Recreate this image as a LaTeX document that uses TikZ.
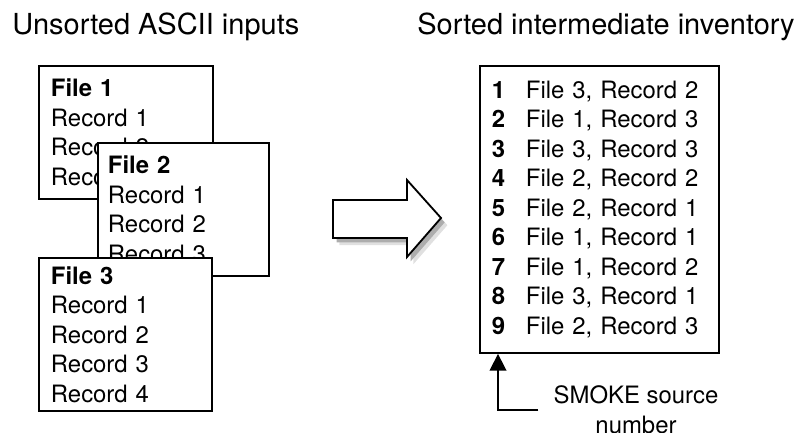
\documentclass[tikz,border=0pt]{standalone}
\usepackage{fontspec}
\setmainfont{TeX Gyre Heros}
\usetikzlibrary{arrows.meta}

\newcommand\invrow[2]{\makebox[0.85cm][l]{\textbf{#1}}#2}
\newcommand\bigarrowpath{(333,200) -- (407,200) -- (407,180) -- (441,218) -- (407,257) -- (407,238) -- (333,238) -- cycle}

\pgfdeclarelayer{background}
\pgfsetlayers{background,main}

\begin{document}
\begin{tikzpicture}[x=0.025cm,y=-0.025cm,
    farshadow/.style={fill=black!12,shift={(0.16cm,-0.18cm)}},
    nearshadow/.style={fill=black!32,shift={(0.09cm,-0.11cm)}},
    filebox/.style={draw,line width=1.3pt,fill=white,anchor=north west,
        inner xsep=0.3cm,align=left,font=\fontsize{17}{21}\selectfont},
    heading/.style={inner sep=0pt,font=\fontsize{20.6}{24}\selectfont},
    srcarrow/.style={line width=1.1pt,-{Triangle[length=0.42cm,width=0.42cm]}}]

    \useasboundingbox (0,0) rectangle (802,433);

    \node[heading,anchor=west] (inputs) at (12,27) {Unsorted ASCII inputs};
    \node[heading,anchor=east] (sorted) at (795,27) {Sorted intermediate inventory};

    % the three input files, drawn in order so that each hides the one before
    \node[filebox,minimum height=3.325cm,text width=3.75cm] (file1) at (38,65)
        {\textbf{File 1}\\Record 1\\Record 2\\Record 3};
    \node[filebox,minimum height=3.325cm,inner xsep=0.25cm,text width=3.775cm] (file2) at (97,142)
        {\textbf{File 2}\\Record 1\\Record 2\\Record 3};
    \node[filebox,minimum height=3.825cm,text width=3.725cm] (file3) at (38,257)
        {\textbf{File 3}\\Record 1\\Record 2\\Record 3\\Record 4};

    \draw[line width=1.3pt,fill=white,line join=miter] \bigarrowpath;

    \node[filebox,minimum height=7.175cm,text width=5.375cm] (inventory) at (479,65)
        {\invrow{1}{File 3, Record 2}\\
         \invrow{2}{File 1, Record 3}\\
         \invrow{3}{File 3, Record 3}\\
         \invrow{4}{File 2, Record 2}\\
         \invrow{5}{File 2, Record 1}\\
         \invrow{6}{File 1, Record 1}\\
         \invrow{7}{File 1, Record 2}\\
         \invrow{8}{File 3, Record 1}\\
         \invrow{9}{File 2, Record 3}};

    \coordinate (srcnum) at ([xshift=0.475cm]inventory.south west);
    \node[align=center,inner xsep=0.375cm,font=\fontsize{17}{21}\selectfont] (smoke) at (636,410)
        {SMOKE source\\number};
    \draw[srcarrow] (smoke.west) -| (srcnum);

    % soft shadows behind the boxes and the big arrow
    \begin{pgfonlayer}{background}
        \foreach \b in {file1,file2,file3,inventory} {
            \fill[farshadow] (\b.south west) rectangle (\b.north east);
            \fill[nearshadow] (\b.south west) rectangle (\b.north east);
        }
        \fill[farshadow] \bigarrowpath;
        \fill[nearshadow] \bigarrowpath;
    \end{pgfonlayer}

\end{tikzpicture}
\end{document}
